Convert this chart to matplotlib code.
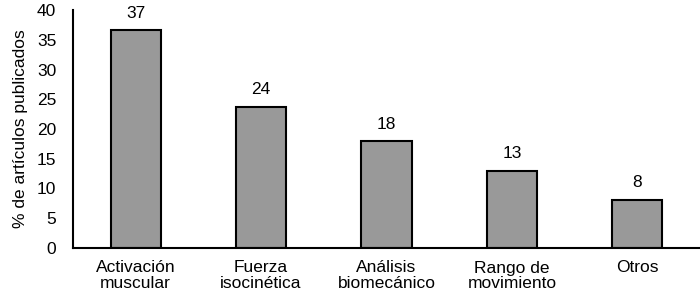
import matplotlib.pyplot as plt

categorias = ["Activación\nmuscular", "Fuerza\nisocinética", "Análisis\nbiomecánico",
              "Rango de\nmovimiento", "Otros"]
porcentajes = [36.6, 23.7, 17.9, 13.0, 8.1]
etiquetas = ["37", "24", "18", "13", "8"]

plt.rcParams['font.family'] = ['Liberation Sans', 'DejaVu Sans']
fs = 12.5

fig = plt.figure(figsize=(7, 2.98), dpi=100)
ax = fig.add_axes([73/700, 50/298, 627/700, 238/298])

x = range(len(categorias))
ax.bar(x, porcentajes, width=0.4, color="#999999", edgecolor="black", linewidth=1.5)

# etiquetas encima de cada barra
for xi, v, t in zip(x, porcentajes, etiquetas):
    ax.annotate(t, (xi, v), xytext=(0, 7), textcoords="offset points",
                ha="center", va="bottom", fontsize=fs)

ax.set_xlim(-0.5, len(categorias) - 0.5)
ax.set_ylim(0, 40)
ax.set_yticks(range(0, 41, 5))
ax.set_xticks(list(x))
ax.set_xticklabels(categorias, fontsize=fs, linespacing=1.0)
ax.tick_params(axis="y", labelsize=fs, length=0, pad=12)
ax.tick_params(axis="x", length=0, pad=9)
ax.set_ylabel("% de artículos publicados", fontsize=fs, labelpad=6)

for s in ["top", "right"]:
    ax.spines[s].set_visible(False)
ax.spines["left"].set_linewidth(1.5)
ax.spines["bottom"].set_linewidth(1.5)

fig.savefig("out.png", dpi=100)
